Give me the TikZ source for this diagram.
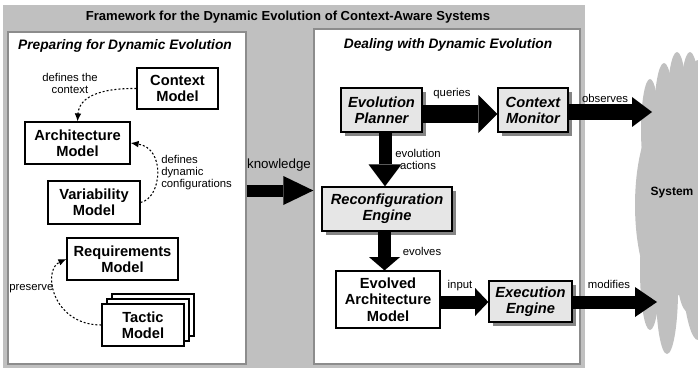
\documentclass[tikz,border=0pt]{standalone}
\usepackage{fontspec}
\setmainfont{Liberation Sans}
\usetikzlibrary{arrows.meta,calc,shadows}
\definecolor{outergray}{HTML}{C0C0C0}
\definecolor{panelborder}{HTML}{8C8C8C}
\definecolor{boxgray}{HTML}{E6E6E6}
\definecolor{shadowgray}{HTML}{858585}
\definecolor{cloudgray}{HTML}{C0C0C0}
\begin{document}
\begin{tikzpicture}[x=0.75pt,y=-0.75pt,
  panel/.style={draw=panelborder, line width=1pt, fill=white, inner sep=0pt},
  wbox/.style={draw=black, line width=0.9pt, fill=white, align=center, inner sep=0pt,
    font=\fontsize{11}{12}\selectfont\bfseries},
  gbox/.style={wbox, fill=boxgray, font=\fontsize{11}{12}\selectfont\bfseries\itshape,
    drop shadow={shadow xshift=3pt, shadow yshift=-3pt, fill=shadowgray, opacity=1}},
  lbl/.style={font=\fontsize{8.5}{9}\selectfont, inner sep=0pt, align=center},
  ptitle/.style={font=\fontsize{10.3}{12}\selectfont\bfseries\itshape, inner sep=0pt},
  dotarrow/.style={line width=0.8pt, dash pattern=on 1.5pt off 1.5pt,
    -{Latex[length=6pt,width=5pt]}},
  fat/.style n args={3}{line width=#1, -{Triangle[length=#2,width=#3,line width=0pt]}},
]
\useasboundingbox (0,0) rectangle (698,367);
\clip (0,0) rectangle (698,367);

% outer frame
\fill[outergray] (3,5) rectangle (585,372);
\node[font=\fontsize{9.8}{12}\selectfont\bfseries, inner sep=0pt] (title) at (288,17)
  {Framework for the Dynamic Evolution of Context-Aware Systems};

% panels
\node[panel, minimum width=178.5pt, minimum height=249pt] (left) at (127,198) {};
\node[panel, minimum width=199.5pt, minimum height=251.25pt] (right) at (447,196.5) {};
\node[ptitle] (lt) at (125,46) {Preparing for Dynamic Evolution};
\node[ptitle] (rt) at (448,45) {Dealing with Dynamic Evolution};

% system cloud
\fill[cloudgray] (650,130) ellipse [x radius=9, y radius=51];
\fill[cloudgray] (664,120) ellipse [x radius=10, y radius=57];
\fill[cloudgray] (677,110) ellipse [x radius=10, y radius=58];
\fill[cloudgray] (690,110) ellipse [x radius=10, y radius=58];
\fill[cloudgray] (668,205) ellipse [x radius=33, y radius=95];
\fill[cloudgray] (698,200) ellipse [x radius=20, y radius=140];
\fill[cloudgray] (650,270) ellipse [x radius=10, y radius=60];
\fill[cloudgray] (667,290) ellipse [x radius=11, y radius=64];
\fill[cloudgray] (688,260) ellipse [x radius=12, y radius=52];
\node[font=\fontsize{9}{11}\selectfont\bfseries, inner sep=0pt] (sys) at (672,193) {System};
\coordinate (sysin1) at (652,112);
\coordinate (sysin2) at (657,302);

% left panel models
\node[wbox, minimum width=60.75pt, minimum height=30.75pt] (ctx) at (177.5,88.5) {Context\\Model};
\node[wbox, minimum width=78.75pt, minimum height=31.5pt] (arch) at (77.5,143) {Architecture\\Model};
\node[wbox, minimum width=69pt, minimum height=32.25pt] (var) at (94,202.5) {Variability\\Model};
\node[wbox, minimum width=83.25pt, minimum height=31.5pt] (req) at (122.5,259) {Requirements\\Model};
\node[wbox, minimum width=61.5pt, minimum height=31.5pt] (tac2) at (153,315) {};
\node[wbox, minimum width=61.5pt, minimum height=31.5pt] (tac1) at (148,320) {};
\node[wbox, minimum width=61.5pt, minimum height=31.5pt] (tac) at (143,325) {Tactic\\Model};

\draw[dotarrow] (ctx.west) .. controls (100,88) and (79,97) .. (arch.north);
\draw[dotarrow] (var.east) .. controls (162,198) and (166,148) .. (arch.east);
\draw[dotarrow] (tac.west) .. controls (52,325) and (42,270) .. (req.west);

\node[lbl] (l1) at (70,83) {defines the\\context};
\node[lbl, align=left, anchor=west] (l2) at (161,173) {defines\\dynamic\\configurations};
\node[lbl, anchor=west] (l3) at (9,289) {preserve};

% right panel components
\node[gbox, minimum width=60.75pt, minimum height=33pt] (ep) at (381.5,110) {Evolution\\Planner};
\node[gbox, minimum width=52.5pt, minimum height=33pt] (cm) at (533,110) {Context\\Monitor};
\node[gbox, minimum width=97.5pt, minimum height=33pt] (re) at (387,209) {Reconfiguration\\Engine};
\node[wbox, minimum width=78pt, minimum height=42.75pt, font=\fontsize{11}{12.5}\selectfont\bfseries] (eam) at (388,299.5) {Evolved\\Architecture\\Model};
\node[gbox, minimum width=62.25pt, minimum height=30.75pt] (ee) at (530.5,301.5) {Execution\\Engine};

% block arrows
\draw[fat={9pt}{22.5pt}{21.75pt}] ($(left.east)+(0,-7.5)$) -- ($(right.west)+(0,-6)$);
\draw[fat={13.5pt}{14.25pt}{28.5pt}] ($(ep.east)+(0,4)$) -- ($(cm.west)+(0,4)$);
\draw[fat={12pt}{15pt}{22.5pt}] ($(cm.east)+(0,2)$) -- (sysin1);
\draw[fat={9.75pt}{16.5pt}{24.75pt}] ($(ep.south)+(3.5,0)$) -- ($(re.north)+(-2,0)$);
\draw[fat={9.75pt}{10pt}{23.25pt}] ($(re.south)+(-2.5,0)$) -- ($(eam.north)+(-3.5,0)$);
\draw[fat={9.75pt}{10pt}{21pt}] ($(eam.east)+(0,2.5)$) -- ($(ee.west)+(0,0.5)$);
\draw[fat={9.75pt}{16.5pt}{22.5pt}] ($(ee.east)+(0,0.5)$) -- (sysin2);

% arrow labels
\node[lbl, font=\fontsize{10}{11}\selectfont] (lk) at (279,165) {knowledge};
\node[lbl] (lq) at (452,94) {queries};
\node[lbl] (la) at (418,159) {evolution\\actions};
\node[lbl] (lev) at (422,251) {evolves};
\node[lbl] (lin) at (460,286) {input};
\node[lbl] (lob) at (605,98) {observes};
\node[lbl] (lmo) at (609,284) {modifies};
\end{tikzpicture}
\end{document}
